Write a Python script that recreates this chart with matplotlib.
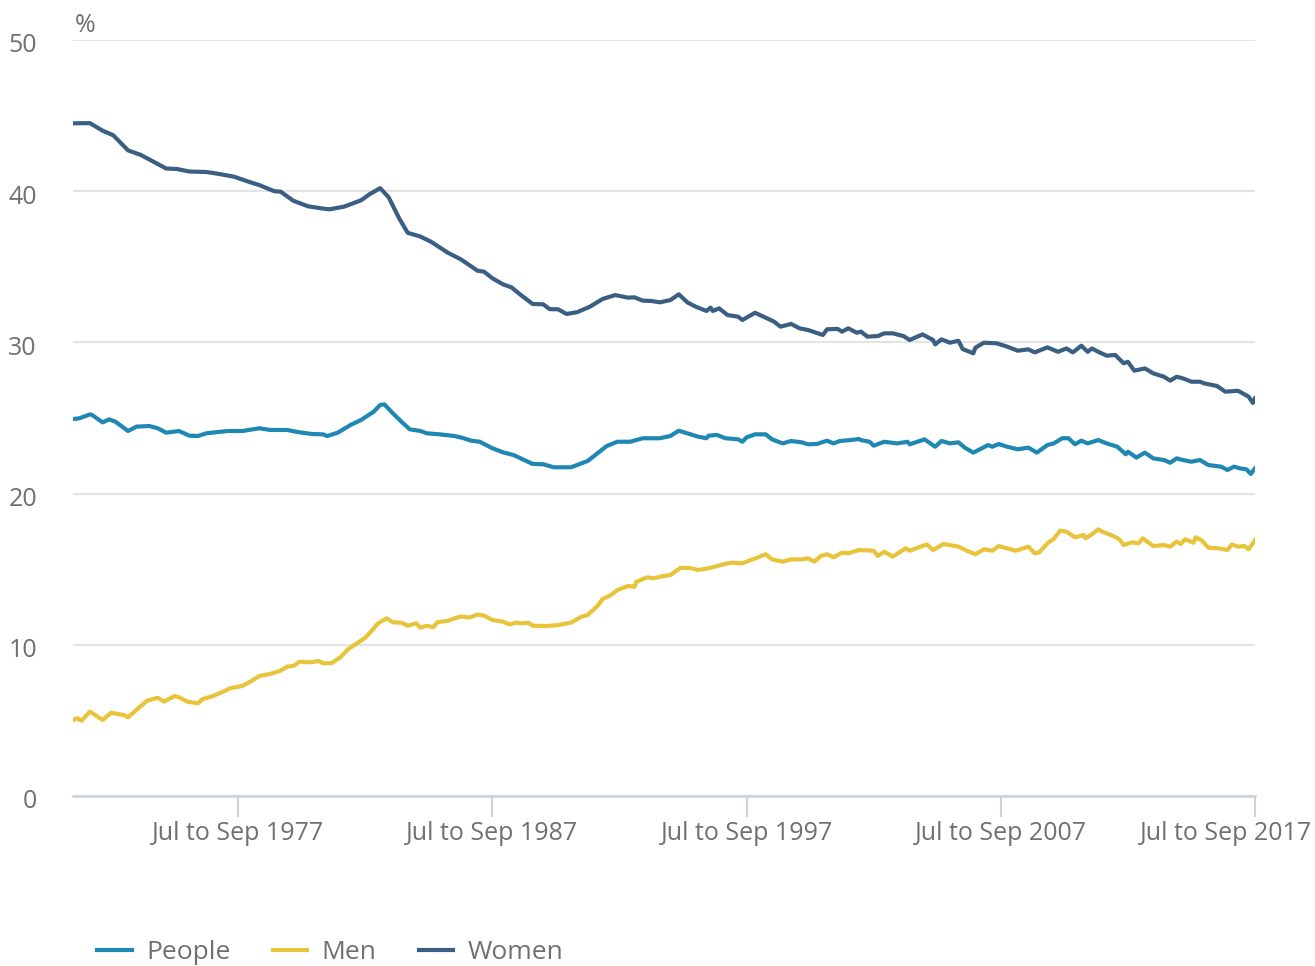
import matplotlib
matplotlib.use('Agg')
import matplotlib.pyplot as plt
import matplotlib.transforms as mtransforms

#-- month offsets are counted from Jan to Mar 1971 (rolling quarters)
tick_months = [78, 198, 318, 438, 558]
tick_labels = ['Jul to Sep 1977', 'Jul to Sep 1987', 'Jul to Sep 1997',
               'Jul to Sep 2007', 'Jul to Sep 2017']

women_months = [0, 8, 14, 19, 26, 32, 38, 44, 49, 55, 63, 69, 76, 82, 88, 95, 98,
    104, 111, 117, 121, 128, 136, 140, 145, 149, 154, 158, 164, 169, 177, 183,
    191, 194, 198, 203, 207, 211, 217, 222, 225, 229, 233, 238, 244, 250, 256,
    262, 265, 269, 273, 277, 282, 286, 290, 294, 299, 301, 302, 305, 309, 314,
    316, 322, 326, 331, 334, 339, 343, 347, 354, 356, 361, 363, 366, 370, 372,
    375, 380, 383, 387, 392, 395, 401, 406, 407, 410, 414, 418, 420, 425, 426,
    430, 436, 441, 446, 451, 454, 460, 465, 469, 472, 476, 479, 481, 484, 488,
    492, 496, 498, 501, 506, 510, 515, 518, 521, 524, 528, 532, 534, 540, 544,
    550, 555, 557, 558]
women = [44.49, 44.5, 44.0, 43.7, 42.7, 42.4, 41.95, 41.5, 41.47, 41.3, 41.27,
    41.14, 40.96, 40.67, 40.4, 40.0, 39.97, 39.37, 39.0, 38.87, 38.8, 38.98,
    39.4, 39.8, 40.2, 39.6, 38.2, 37.25, 37.0, 36.66, 35.93, 35.5, 34.74, 34.68,
    34.24, 33.84, 33.64, 33.18, 32.54, 32.52, 32.2, 32.19, 31.88, 32.0, 32.36,
    32.87, 33.13, 32.96, 32.98, 32.76, 32.74, 32.65, 32.8, 33.18, 32.65, 32.36,
    32.08, 32.3, 32.08, 32.25, 31.81, 31.7, 31.48, 31.96, 31.7, 31.37, 31.04,
    31.22, 30.93, 30.82, 30.49, 30.87, 30.89, 30.71, 30.93, 30.64, 30.71, 30.38,
    30.42, 30.6, 30.6, 30.42, 30.16, 30.53, 30.16, 29.87, 30.2, 29.98, 30.11,
    29.56, 29.28, 29.65, 29.98, 29.94, 29.72, 29.45, 29.54, 29.34, 29.67, 29.38,
    29.6, 29.34, 29.78, 29.38, 29.6, 29.38, 29.12, 29.17, 28.62, 28.72, 28.13,
    28.28, 27.95, 27.73, 27.47, 27.73, 27.62, 27.4, 27.4, 27.29, 27.12, 26.74,
    26.8, 26.41, 26.0, 26.3]

people_months = [0, 3, 8, 9, 14, 17, 20, 26, 30, 36, 40, 44, 50, 55, 59, 63, 73,
    80, 88, 93, 101, 107, 113, 118, 120, 125, 131, 136, 142, 145, 147, 151, 155,
    159, 164, 167, 173, 180, 184, 188, 192, 198, 203, 208, 213, 217, 222, 227,
    235, 238, 243, 248, 252, 257, 263, 269, 277, 282, 286, 290, 295, 299, 300,
    304, 308, 314, 316, 318, 322, 327, 330, 335, 339, 344, 347, 351, 356, 359,
    362, 367, 371, 372, 376, 378, 383, 389, 394, 395, 402, 407, 410, 414, 418,
    421, 425, 432, 434, 437, 441, 446, 451, 455, 460, 463, 467, 470, 473, 476,
    479, 484, 488, 493, 497, 498, 502, 506, 510, 515, 518, 521, 524, 528, 532,
    536, 542, 545, 548, 551, 554, 556, 558]
people = [24.93, 24.98, 25.24, 25.2, 24.71, 24.91, 24.76, 24.14, 24.43, 24.47,
    24.32, 24.03, 24.14, 23.83, 23.81, 23.99, 24.14, 24.14, 24.32, 24.21, 24.21,
    24.05, 23.94, 23.92, 23.81, 24.03, 24.54, 24.87, 25.42, 25.86, 25.9, 25.31,
    24.76, 24.25, 24.14, 23.99, 23.92, 23.81, 23.68, 23.5, 23.43, 23.0, 22.73,
    22.55, 22.22, 21.96, 21.94, 21.74, 21.74, 21.89, 22.16, 22.71, 23.15, 23.43,
    23.43, 23.66, 23.66, 23.81, 24.16, 23.99, 23.77, 23.66, 23.83, 23.88, 23.66,
    23.59, 23.43, 23.72, 23.92, 23.92, 23.59, 23.32, 23.48, 23.39, 23.26, 23.28,
    23.5, 23.32, 23.48, 23.54, 23.61, 23.54, 23.43, 23.17, 23.43, 23.32, 23.43,
    23.26, 23.59, 23.1, 23.48, 23.32, 23.39, 23.04, 22.71, 23.21, 23.1, 23.28,
    23.1, 22.93, 23.04, 22.71, 23.21, 23.32, 23.66, 23.66, 23.26, 23.5, 23.32,
    23.54, 23.32, 23.1, 22.6, 22.77, 22.38, 22.71, 22.33, 22.22, 22.04, 22.33,
    22.22, 22.11, 22.22, 21.89, 21.78, 21.56, 21.78, 21.67, 21.6, 21.3, 21.67]

men_months = [0, 2, 4, 8, 14, 18, 21, 24, 26, 32, 35, 40, 43, 48, 50, 54, 59, 61,
    66, 71, 74, 80, 85, 88, 93, 98, 101, 104, 107, 112, 116, 118, 122, 126, 130,
    134, 138, 141, 144, 148, 151, 155, 158, 162, 164, 167, 170, 172, 177, 183,
    187, 191, 194, 198, 203, 206, 209, 212, 215, 217, 224, 229, 235, 240, 243,
    248, 250, 254, 257, 262, 265, 266, 271, 274, 279, 282, 287, 292, 295, 300,
    304, 309, 311, 316, 320, 323, 327, 330, 335, 339, 344, 347, 350, 353, 356,
    359, 363, 366, 371, 378, 380, 383, 387, 393, 395, 403, 406, 411, 418, 422,
    426, 430, 434, 437, 441, 445, 451, 454, 456, 460, 463, 466, 469, 473, 477,
    478, 481, 484, 486, 491, 494, 496, 500, 503, 505, 510, 515, 518, 521, 523,
    525, 529, 530, 533, 536, 541, 545, 547, 550, 553, 555, 558]
men = [5.03, 5.14, 4.98, 5.58, 5.03, 5.51, 5.42, 5.36, 5.2, 5.95, 6.3, 6.5, 6.24,
    6.61, 6.53, 6.24, 6.13, 6.4, 6.61, 6.9, 7.12, 7.28, 7.67, 7.94, 8.07, 8.29,
    8.55, 8.6, 8.88, 8.84, 8.93, 8.78, 8.78, 9.15, 9.72, 10.1, 10.47, 10.93,
    11.42, 11.75, 11.49, 11.46, 11.26, 11.42, 11.13, 11.26, 11.16, 11.49, 11.59,
    11.88, 11.8, 12.0, 11.93, 11.64, 11.53, 11.35, 11.46, 11.42, 11.46, 11.26,
    11.24, 11.31, 11.46, 11.86, 11.97, 12.63, 13.03, 13.29, 13.62, 13.89, 13.84,
    14.17, 14.46, 14.4, 14.55, 14.62, 15.1, 15.06, 14.95, 15.06, 15.21, 15.39,
    15.43, 15.39, 15.61, 15.76, 15.99, 15.65, 15.5, 15.65, 15.65, 15.72, 15.5,
    15.87, 15.99, 15.79, 16.09, 16.05, 16.27, 16.22, 15.87, 16.16, 15.83, 16.38,
    16.22, 16.64, 16.27, 16.67, 16.49, 16.22, 15.99, 16.32, 16.22, 16.53, 16.38,
    16.22, 16.49, 16.05, 16.09, 16.71, 17.0, 17.55, 17.48, 17.11, 17.26, 17.04,
    17.31, 17.64, 17.48, 17.2, 16.98, 16.6, 16.78, 16.71, 17.04, 16.53, 16.6,
    16.49, 16.82, 16.67, 16.98, 16.75, 17.11, 16.89, 16.42, 16.38, 16.27, 16.64,
    16.49, 16.53, 16.32, 16.93]

c_people = '#1f88b2'
c_men = '#e8c43b'
c_women = '#3a5f83'
c_text = '#707070'

plt.rcParams['font.family'] = ['Open Sans', 'DejaVu Sans']

fig = plt.figure(figsize=(13.15, 9.66), dpi=100)
ax = fig.add_axes([73/1315., 1-796/966., (1255-73)/1315., (796-40)/966.])

ax.plot(people_months, people, color=c_people, lw=3.0, label='People', zorder=3)
ax.plot(men_months, men, color=c_men, lw=3.0, label='Men', zorder=3)
ax.plot(women_months, women, color=c_women, lw=3.0, label='Women', zorder=3)

ax.set_xlim(0, 558)
ax.set_ylim(0, 50)
ax.set_yticks([0, 10, 20, 30, 40, 50])
ax.set_xticks(tick_months)
ax.set_xticklabels(tick_labels)
ax.yaxis.grid(True, color='#e3e3e3', lw=1.5, zorder=0)
for s in ['top', 'right', 'left']:
    ax.spines[s].set_visible(False)
ax.spines['bottom'].set_color('#c9d3e0')
ax.spines['bottom'].set_linewidth(1.8)
ax.spines['bottom'].set_zorder(2)
ax.tick_params(axis='y', length=0, pad=26, labelsize=18, labelcolor=c_text)
ax.tick_params(axis='x', length=15, width=1.5, color='#c9d3e0', pad=3,
               labelsize=18, labelcolor=c_text)
#-- y labels sit a touch lower than the gridlines
for lab in ax.get_yticklabels():
    lab.set_transform(lab.get_transform() +
                      mtransforms.ScaledTranslation(0, -3/100., fig.dpi_scale_trans))
#-- last x label is pulled in so it stays inside the figure
last = ax.get_xticklabels()[-1]
last.set_transform(last.get_transform() +
                   mtransforms.ScaledTranslation(-29/100., 0, fig.dpi_scale_trans))

fig.text(75/1315., 1-25/966., '%', fontsize=18, color=c_text, va='center', ha='left')

fig.legend(loc='lower left', bbox_to_anchor=(0.056, -0.024), ncol=3, frameon=False,
           fontsize=19, labelcolor=c_text, handlelength=1.3, handletextpad=0.55,
           columnspacing=1.6)

fig.savefig('out.png', dpi=100)
